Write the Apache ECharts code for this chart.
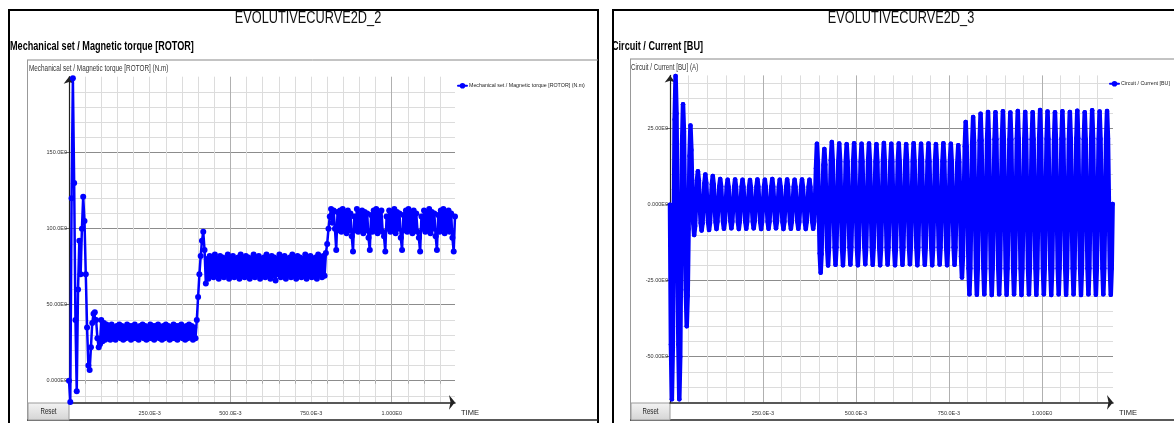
<!DOCTYPE html>
<html>
<head>
<meta charset="utf-8">
<script src="https://cdn.jsdelivr.net/npm/echarts@6/dist/echarts.min.js"></script>
<style>
html,body{margin:0;padding:0;background:#ffffff;}
#c{width:1174px;height:423px;}
</style>
</head>
<body>
<div id="c"></div>
<script>
// ---------------- DATA ----------------
const LEFT_TITLE = 'EVOLUTIVECURVE2D_2';
const RIGHT_TITLE = 'EVOLUTIVECURVE2D_3';
const LEFT_SUBTITLE = 'Mechanical set / Magnetic torque [ROTOR]';
const RIGHT_SUBTITLE = 'Circuit / Current [BU]';
const LEFT_SERIES_NAME = 'Mechanical set / Magnetic torque [ROTOR] (N.m)';
const RIGHT_SERIES_NAME = 'Circuit / Current [BU]';
const LEFT_Y_NAME = 'Mechanical set / Magnetic torque [ROTOR] (N.m)';
const RIGHT_Y_NAME = 'Circuit / Current [BU] (A)';
const X_NAME = 'TIME';
const RESET_LABEL = 'Reset';

const X_LABEL_VALUES = [0.25, 0.5, 0.75, 1.0];
const X_LABELS = ['250.0E-3', '500.0E-3', '750.0E-3', '1.000E0'];
const LEFT_Y_LABEL_VALUES = [0, 50, 100, 150];
const LEFT_Y_LABELS = ['0.000E0', '50.00E0', '100.0E0', '150.0E0'];
const RIGHT_Y_LABEL_VALUES = [-50, -25, 0, 25];
const RIGHT_Y_LABELS = ['-50.00E0', '-25.00E0', '0.000E0', '25.00E0'];

// sample step of the torque trace (s)
const TORQUE_DT = 0.004;
const TORQUE = [
  // start-up transient
  0,-14,120,199,130,40,-7,60,92,70,100,121,105,70,35,10,7,22,38,44,45,40,28,22,24,
  // first load level
  40,26,38,27,37,28,36,27,37,28,
  35,27,36,29,37,28,36,27,35,28,
  37,29,36,27,36,28,37,28,35,27,
  36,29,37,28,36,27,35,28,37,28,
  36,27,36,29,37,28,35,27,36,28,
  37,29,36,27,35,28,37,28,36,27,
  36,29,37,28,35,27,36,28,37,29,
  36,27,35,28,
  // step 1
  40,55,70,82,92,98,86,64,
  // second load level
  80,67,82,69,81,68,83,70,80,67,
  82,69,81,68,80,70,83,67,81,69,
  82,68,80,70,81,67,83,69,80,68,
  82,70,81,67,80,69,83,68,81,70,
  82,67,80,69,81,68,83,70,80,67,
  82,69,81,66,80,70,83,68,81,69,
  82,67,80,70,81,68,83,69,80,67,
  82,70,81,68,80,69,83,67,81,70,
  82,68,80,69,81,67,83,70,80,68,
  82,69,84,
  // step 2
  90,100,108,113,104,
  // third load level
  112,100,86,111,99,112,98,113,100,111,
  97,112,99,110,95,85,108,99,113,98,
  111,100,112,97,111,99,110,94,86,109,
  98,112,100,113,97,111,99,112,98,95,
  85,108,100,112,98,111,99,113,97,111,
  100,110,94,86,109,99,112,98,113,100,
  111,97,112,99,110,98,94,85,108,100,
  112,98,111,99,113,97,111,100,110,95,
  86,109,98,112,100,113,97,111,99,112,
  98,110,94,85,108
];

// sample step of the current trace (s)
const CURRENT_DT = 0.0025;
const CURRENT = [
  0,-46,-64,-47,-12,28,42.3,30,
  -8,-46,-64,-50,-14,20,33,24,
  -2,-28,-40,-30,-8,16,26,18,
  3,-6,-10,-7,1,8,11,8,
  0.3,-6,-8.5,-6.1,0.2,7,9.9,7.1,
  0.2,-5.9,-8.3,-6,0.1,6.7,9.4,6.6,
  0.1,-5.7,-8,-5.6,0.2,6,8.4,6,
  -0.1,-5.6,-7.9,-5.7,0.1,5.9,8.2,5.8,
  0.2,-5.5,-7.8,-5.6,0,5.8,8.3,5.9,
  0.1,-5.7,-8,-5.6,0.2,5.9,8.2,5.8,
  0,-5.6,-7.9,-5.6,0.1,5.8,8.1,5.7,
  0.1,-5.6,-7.8,-5.5,0.2,5.9,8.3,5.9,
  -0.1,-5.7,-8,-5.7,0.1,5.8,8.2,5.8,
  0.2,-5.6,-7.9,-5.6,0,5.9,8.4,5.9,
  0.1,-5.5,-7.8,-5.6,0.1,5.8,8.2,5.8,
  0,-5.7,-8,-5.6,0.2,5.9,8.3,5.9,
  0.1,-5.6,-7.9,-5.6,0.1,5.8,8.2,5.8,
  -0.1,-5.6,-7.9,-5.7,0,5.9,8.3,5.8,
  0.2,-5.7,-8,-5.6,0.1,5.8,8.2,5.8,
  0.1,-5.6,-7.9,-5.6,1,12,20,14,
  0.5,-16,-22.4,-16.2,0.3,13,18.3,13.1,
  0.2,-14.2,-20,-14.1,0.4,14.6,20.6,14.5,
  0.1,-14,-19.8,-14,0.2,14.2,20.1,14.2,
  0.3,-14.1,-19.9,-14,0.1,14.1,19.9,14.1,
  0.2,-14,-19.7,-13.9,0.3,14.3,20.2,14.2,
  0.1,-14.1,-19.9,-14.1,0.2,14.1,20,14.1,
  0.2,-13.9,-19.6,-13.9,0.1,14.2,20.1,14.2,
  0.3,-14,-19.8,-14,0.2,14.1,19.9,14,
  0.1,-14.1,-19.9,-14.1,0.3,14.3,20.3,14.3,
  0.2,-14,-19.7,-14,0.1,14.1,20,14.1,
  0.1,-14.1,-19.9,-14,0.2,14.2,20.1,14.2,
  0.2,-14,-19.8,-14,0.3,14.1,19.9,14.1,
  0.3,-13.9,-19.6,-13.9,0.1,14.2,20.2,14.3,
  0.1,-14.1,-19.9,-14.1,0.2,14.1,20,14.1,
  0.2,-14,-19.8,-14,0.1,14.2,20.1,14.2,
  0.1,-14.1,-19.9,-14,0.2,14.1,19.9,14.1,
  0.2,-14,-19.7,-14,0.3,14.3,20.2,14.2,
  0.1,-14.1,-19.9,-14.1,0.2,14.1,20,14.1,
  0.2,-14,-19.8,-14,0.4,13.8,19.5,14,
  1.5,-17,-24,-17,0.8,19.2,27.2,19.1,
  0.4,-20.9,-29.5,-20.9,0.3,20.4,28.8,20.4,
  0.3,-21,-29.6,-20.9,0.4,21.1,29.9,21.1,
  0.2,-20.9,-29.5,-21,0.3,21.6,30.5,21.5,
  0.3,-21,-29.7,-21,0.2,21.5,30.4,21.5,
  0.2,-20.9,-29.5,-20.9,0.3,21.7,30.7,21.6,
  0.3,-21,-29.6,-21,0.2,21.4,30.3,21.4,
  0.2,-20.9,-29.5,-20.9,0.4,21.8,30.8,21.7,
  0.3,-21,-29.7,-21,0.2,21.6,30.5,21.5,
  0.2,-20.9,-29.5,-20.9,0.3,21.5,30.4,21.5,
  0.3,-21,-29.6,-21,0.2,22,31.1,21.9,
  0.2,-20.9,-29.5,-20.9,0.3,21.6,30.6,21.6,
  0.3,-21,-29.7,-21,0.2,21.5,30.4,21.5,
  0.2,-20.9,-29.5,-20.9,0.3,21.7,30.7,21.6,
  0.3,-21,-29.6,-21,0.2,21.6,30.5,21.6,
  0.2,-20.9,-29.5,-20.9,0.4,21.8,30.9,21.8,
  0.3,-21,-29.7,-21,0.2,21.5,30.4,21.5,
  0.2,-20.9,-29.5,-20.9,0.3,21.9,31,21.8,
  0.3,-21,-29.6,-21,0.2,21.6,30.6,21.6,
  0.2,-20.9,-29.5,-20.9,0.3,21.7,30.8,21.7,
  0.3,-21,-29.6,-21,0.2
];

// ---------------- HELPERS ----------------
const FONT = "'Liberation Sans', Arial, sans-serif";
const BLUE = '#0000ff';

function labelFor(values, labels) {
  return function (v) {
    for (let i = 0; i < values.length; i++) {
      if (Math.abs(values[i] - v) < 1e-9) return labels[i];
    }
    return '';
  };
}
function gridSteps(from, to, step, exclude) {
  const out = [];
  const n = Math.round((to - from) / step);
  for (let i = 0; i <= n; i++) {
    const v = +(from + i * step).toFixed(6);
    if (!exclude.some(e => Math.abs(e - v) < 1e-9)) out.push(v);
  }
  return out;
}
function toPairs(values, dt) {
  return values.map((v, i) => [+(i * dt).toFixed(5), v]);
}

const LEFT_X_MAX = 1.196, RIGHT_X_MAX = 1.191;
const LEFT_Y_MIN = -14.2, LEFT_Y_MAX = 200;
const RIGHT_Y_MIN = -65, RIGHT_Y_MAX = 42.5;

const LEFT_X_MAJOR = [0.5, 1.0];
const LEFT_X_MINOR = gridSteps(0.05, 1.15, 0.05, LEFT_X_MAJOR);
const RIGHT_X_MAJOR = [0.25, 0.5, 0.75, 1.0];
const RIGHT_X_MINOR = gridSteps(0.05, 1.15, 0.05, RIGHT_X_MAJOR);
const LEFT_Y_MINOR = gridSteps(-10, 190, 10, LEFT_Y_LABEL_VALUES);
const RIGHT_Y_MINOR = gridSteps(-60, 40, 5, RIGHT_Y_LABEL_VALUES);

const MINOR_COLOR = '#dcdcdc';

function mainX(grid, max, majors) {
  return {
    type: 'value', gridIndex: grid, min: 0, max: max, position: 'bottom',
    name: X_NAME, nameLocation: 'end', nameGap: 6,
    nameTextStyle: { fontFamily: FONT, fontSize: 7.5, color: '#222', verticalAlign: 'top', align: 'left', padding: [7, 0, 0, 0] },
    axisLine: { show: true, onZero: false, symbol: ['none', 'arrow'], symbolSize: [11, 6], lineStyle: { color: '#222', width: 1.5 } },
    axisTick: { show: false, customValues: majors },
    axisLabel: { show: true, customValues: X_LABEL_VALUES, formatter: labelFor(X_LABEL_VALUES, X_LABELS), fontFamily: FONT, fontSize: 5.5, color: '#333', margin: 8 },
    splitLine: { show: true, lineStyle: { color: '#b0b0b0', width: 1 } }
  };
}
function minorX(grid, max, minors) {
  return {
    type: 'value', gridIndex: grid, min: 0, max: max, position: 'bottom',
    axisLine: { show: false },
    axisTick: { show: true, length: 3, customValues: minors, lineStyle: { color: '#aaa' } },
    axisLabel: { show: false },
    splitLine: { show: true, lineStyle: { color: MINOR_COLOR, width: 1 } }
  };
}
function mainY(grid, min, max, values, labels) {
  return {
    type: 'value', gridIndex: grid, min: min, max: max, position: 'left',
    axisLine: { show: true, onZero: false, symbol: ['none', 'arrow'], symbolSize: [8, 7], lineStyle: { color: '#222', width: 1.2 } },
    axisTick: { show: true, length: 4, customValues: values, lineStyle: { color: '#666' } },
    axisLabel: { show: true, customValues: values, formatter: labelFor(values, labels), fontFamily: FONT, fontSize: 5.5, color: '#333', margin: 2 },
    splitLine: { show: true, lineStyle: { color: '#8c8c8c', width: 1 } }
  };
}
function minorY(grid, min, max, minors) {
  return {
    type: 'value', gridIndex: grid, min: min, max: max, position: 'left',
    axisLine: { show: false },
    axisTick: { show: false, customValues: minors },
    axisLabel: { show: false },
    splitLine: { show: true, lineStyle: { color: MINOR_COLOR, width: 1 } }
  };
}

// narrow text: regular font squeezed horizontally
function text(x, y, str, size, sx, style) {
  return {
    type: 'text', x: x, y: y, scaleX: sx, silent: true,
    style: Object.assign({ text: str, fontFamily: FONT, fontSize: size, fill: '#111', textAlign: 'left', textVerticalAlign: 'middle' }, style || {})
  };
}
function line(x1, y1, x2, y2, color, w) {
  return { type: 'line', silent: true, shape: { x1: x1, y1: y1, x2: x2, y2: y2 }, style: { stroke: color, lineWidth: w } };
}
function resetButton(x, y, w, h) {
  return [
    { type: 'rect', silent: true, shape: { x: x, y: y, width: w, height: h },
      style: { fill: new echarts.graphic.LinearGradient(0, 0, 0, 1, [{ offset: 0, color: '#f4f4f4' }, { offset: 1, color: '#d4d4d4' }]), stroke: '#9a9a9a', lineWidth: 1 } },
    text(x + w / 2, y + h / 2 + 0.5, RESET_LABEL, 9, 0.68, { textAlign: 'center', fill: '#222' })
  ];
}

const graphics = [].concat(
  // left frame
  [{ type: 'rect', silent: true, shape: { x: 9, y: 10, width: 589, height: 430 }, style: { fill: 'none', stroke: '#000', lineWidth: 2 } }],
  [line(27, 60, 598, 60, '#888', 1), line(27.5, 60, 27.5, 420, '#999', 1), line(27, 420, 598, 420, '#222', 1.5)],
  [text(308, 18.5, LEFT_TITLE, 17, 0.75, { textAlign: 'center', fill: '#111' })],
  [text(10, 46, LEFT_SUBTITLE, 13, 0.70, { fontWeight: 'bold', fill: '#000' })],
  [text(29, 69, LEFT_Y_NAME, 8.5, 0.75, { fill: '#333' })],
  resetButton(28, 403, 41, 17),
  // right frame
  [{ type: 'rect', silent: true, shape: { x: 613, y: 10, width: 600, height: 430 }, style: { fill: 'none', stroke: '#000', lineWidth: 2 } }],
  [line(630, 59, 1174, 59, '#888', 1), line(630.5, 59, 630.5, 420, '#999', 1), line(630, 420, 1174, 420, '#222', 1.5)],
  [text(901, 18.5, RIGHT_TITLE, 17, 0.75, { textAlign: 'center', fill: '#111' })],
  [text(612, 46, RIGHT_SUBTITLE, 13, 0.70, { fontWeight: 'bold', fill: '#000' })],
  [text(631, 68, RIGHT_Y_NAME, 8.5, 0.73, { fill: '#333' })],
  resetButton(631, 403, 39, 17)
);

const chart = echarts.init(document.getElementById('c'), null, { renderer: 'canvas' });
chart.setOption({
  animation: false,
  backgroundColor: '#ffffff',
  textStyle: { fontFamily: FONT },
  grid: [
    { left: 69, right: 1174 - 455, top: 76.7, bottom: 20.7, containLabel: false, outerBoundsMode: 'none' },
    { left: 670, right: 1174 - 1113, top: 75.4, bottom: 20.7, containLabel: false, outerBoundsMode: 'none' }
  ],
  legend: [
    { left: 452, top: 78, orient: 'vertical', itemWidth: 9, itemHeight: 7, itemGap: 2, data: [LEFT_SERIES_NAME],
      textStyle: { fontFamily: FONT, fontSize: 5.3, color: '#222', padding: [0, 0, 0, -3] }, selectedMode: false },
    { left: 1104, top: 76, orient: 'vertical', itemWidth: 9, itemHeight: 7, itemGap: 2, data: [RIGHT_SERIES_NAME],
      textStyle: { fontFamily: FONT, fontSize: 5.3, color: '#222', padding: [0, 0, 0, -3] }, selectedMode: false }
  ],
  xAxis: [
    mainX(0, LEFT_X_MAX, LEFT_X_MAJOR),
    minorX(0, LEFT_X_MAX, LEFT_X_MINOR),
    mainX(1, RIGHT_X_MAX, RIGHT_X_MAJOR),
    minorX(1, RIGHT_X_MAX, RIGHT_X_MINOR)
  ],
  yAxis: [
    mainY(0, LEFT_Y_MIN, LEFT_Y_MAX, LEFT_Y_LABEL_VALUES, LEFT_Y_LABELS),
    minorY(0, LEFT_Y_MIN, LEFT_Y_MAX, LEFT_Y_MINOR),
    mainY(1, RIGHT_Y_MIN, RIGHT_Y_MAX, RIGHT_Y_LABEL_VALUES, RIGHT_Y_LABELS),
    minorY(1, RIGHT_Y_MIN, RIGHT_Y_MAX, RIGHT_Y_MINOR)
  ],
  series: [
    { name: LEFT_SERIES_NAME, type: 'line', xAxisIndex: 0, yAxisIndex: 0, data: toPairs(TORQUE, TORQUE_DT),
      symbol: 'circle', symbolSize: 6, showSymbol: true, showAllSymbol: true, sampling: 'none', clip: true,
      lineStyle: { color: BLUE, width: 2.5, join: 'round', cap: 'round' }, itemStyle: { color: BLUE }, z: 5 },
    { name: RIGHT_SERIES_NAME, type: 'line', xAxisIndex: 2, yAxisIndex: 2, data: toPairs(CURRENT, CURRENT_DT),
      symbol: 'circle', symbolSize: 4.5, showSymbol: true, showAllSymbol: true, sampling: 'none', clip: true,
      lineStyle: { color: BLUE, width: 4.5, join: 'round', cap: 'round' }, itemStyle: { color: BLUE }, z: 5 }
  ],
  graphic: graphics
});
</script>
</body>
</html>
